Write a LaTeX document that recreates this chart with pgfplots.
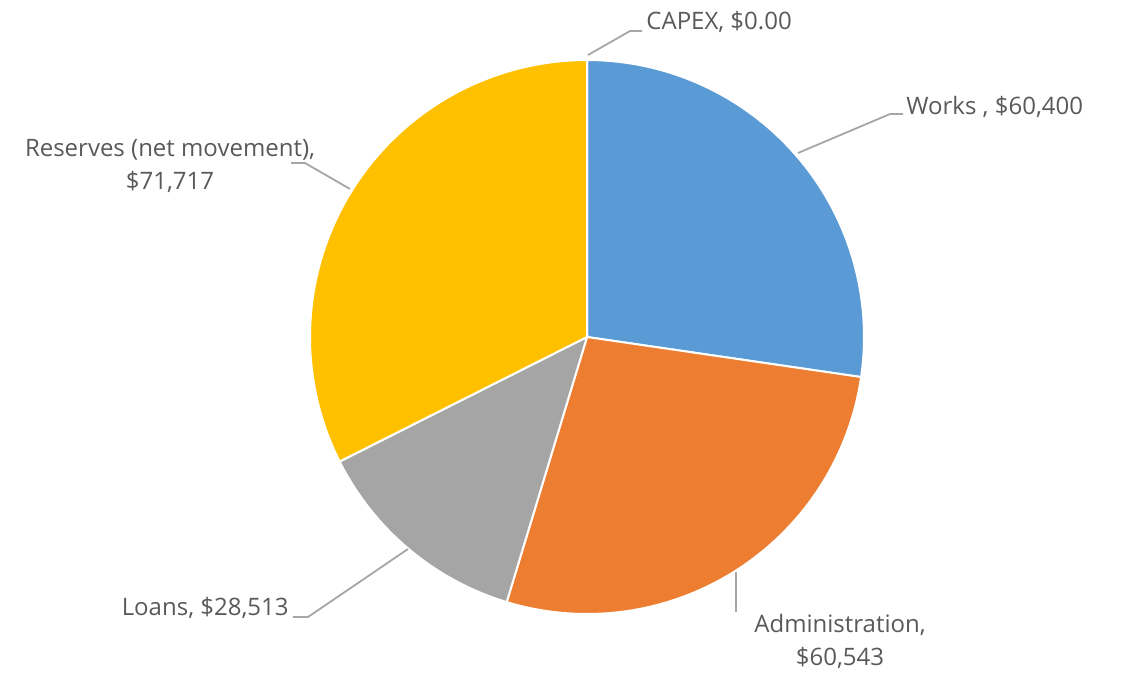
\documentclass[border=0pt]{standalone}
\usepackage{pgfplots}
\pgfplotsset{compat=1.18}
\usepackage{fontspec}
\setmainfont{Open Sans}
\definecolor{cWorks}{HTML}{5B9BD5}
\definecolor{cAdmin}{HTML}{ED7D31}
\definecolor{cLoans}{HTML}{A5A5A5}
\definecolor{cRes}{HTML}{FFC000}
\definecolor{txt}{HTML}{595959}
\definecolor{lead}{HTML}{A6A6A6}
% data
\def\vCapex{0}
\def\vWorks{60400}
\def\vAdmin{60543}
\def\vLoans{28513}
\def\vRes{71717}
\edef\tot{\fpeval{\vCapex+\vWorks+\vAdmin+\vLoans+\vRes}}
\edef\aA{\fpeval{round(90-360*\vCapex/\tot,3)}}
\edef\aB{\fpeval{round(\aA-360*\vWorks/\tot,3)}}
\edef\aC{\fpeval{round(\aB-360*\vAdmin/\tot,3)}}
\edef\aD{\fpeval{round(\aC-360*\vLoans/\tot,3)}}
\edef\aE{\fpeval{round(\aD-360*\vRes/\tot,3)}}
\begin{document}
\begin{tikzpicture}
\begin{axis}[
  scale only axis, width=563.5pt, height=338pt,
  xmin=0, xmax=1127, ymin=0, ymax=676,
  hide axis, clip=false,
]
\def\cx{587}\def\cy{339}\def\R{277}
\addplot[fill=cWorks, draw=white, line width=1pt, domain=\aB:\aA, samples=90, variable=\t]
  ({\cx+\R*cos(\t)},{\cy+\R*sin(\t)}) -- (axis cs:\cx,\cy) -- cycle;
\addplot[fill=cAdmin, draw=white, line width=1pt, domain=\aC:\aB, samples=90, variable=\t]
  ({\cx+\R*cos(\t)},{\cy+\R*sin(\t)}) -- (axis cs:\cx,\cy) -- cycle;
\addplot[fill=cLoans, draw=white, line width=1pt, domain=\aD:\aC, samples=60, variable=\t]
  ({\cx+\R*cos(\t)},{\cy+\R*sin(\t)}) -- (axis cs:\cx,\cy) -- cycle;
\addplot[fill=cRes, draw=white, line width=1pt, domain=\aE:\aD, samples=100, variable=\t]
  ({\cx+\R*cos(\t)},{\cy+\R*sin(\t)}) -- (axis cs:\cx,\cy) -- cycle;
% leader lines
\addplot[lead, line width=0.9pt, no markers] coordinates {(588,621) (630,645) (642,645)};
\addplot[lead, line width=0.9pt, no markers] coordinates {(798,523) (890,562) (903,562)};
\addplot[lead, line width=0.9pt, no markers] coordinates {(350,487) (305,513) (291,513)};
\addplot[lead, line width=0.9pt, no markers] coordinates {(408,127) (308,59) (293,59)};
\addplot[lead, line width=0.9pt, no markers] coordinates {(736,104) (736,64)};
% labels
\begin{scope}[every node/.style={text=txt, font=\fontsize{12}{16.5}\selectfont, inner sep=0pt}]
\node[anchor=west] at (axis cs:646,654) {CAPEX, \$0.00};
\node[anchor=west] at (axis cs:906,569) {Works , \$60,400};
\node[align=center] at (axis cs:170,510.5) {Reserves (net movement),\\\$71,717};
\node[anchor=east] at (axis cs:289,68) {Loans, \$28,513};
\node[align=center] at (axis cs:840,34.5) {Administration,\\\$60,543};
\end{scope}
\end{axis}
\pgfresetboundingbox
\path (current axis.south west) rectangle (current axis.north east);
\end{tikzpicture}
\end{document}
